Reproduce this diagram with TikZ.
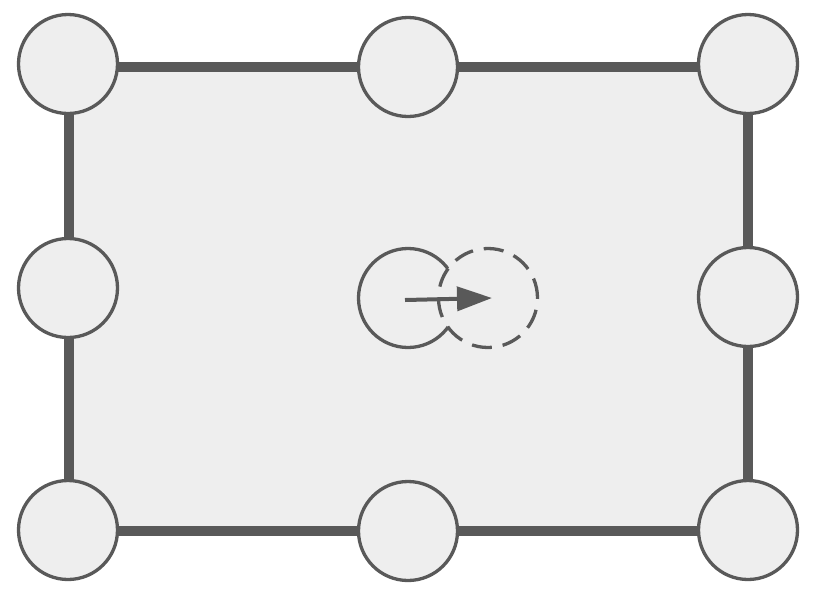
\documentclass[tikz,border=0pt]{standalone}
\usetikzlibrary{arrows.meta}
\definecolor{edgegray}{HTML}{595959}
\definecolor{fillgray}{HTML}{EEEEEE}
\tikzset{pin/.style={circle,draw=edgegray,fill=fillgray,line width=3.3pt,minimum size=99pt,inner sep=0pt}}
\begin{document}
\begin{tikzpicture}[x=1pt,y=-1pt]
                \useasboundingbox (0,0) rectangle (826,606);
                \coordinate (c1) at (69,67);
                \coordinate (c2) at (748,531);
                \draw[edgegray,fill=fillgray,line width=10pt] (c1) rectangle (c2);

                \foreach \n/\x/\y in {tl/68/64, tm/408/67, tr/748/64, ml/68/288, mr/748/297, bl/68/530, bm/408/531, br/748/530}
                \node[pin] (\n) at (\x,\y) {};

                \node[pin] (start) at (408,298) {};
                \node[pin,dash pattern=on 20pt off 11pt] (goal) at (488,298) {};
                \draw[edgegray,line width=4pt,-{Triangle[length=35pt,width=24pt]}] ([xshift=-3pt,yshift=-2pt]start.center) -- ([xshift=4pt]goal.center);
            \end{tikzpicture}
\end{document}
